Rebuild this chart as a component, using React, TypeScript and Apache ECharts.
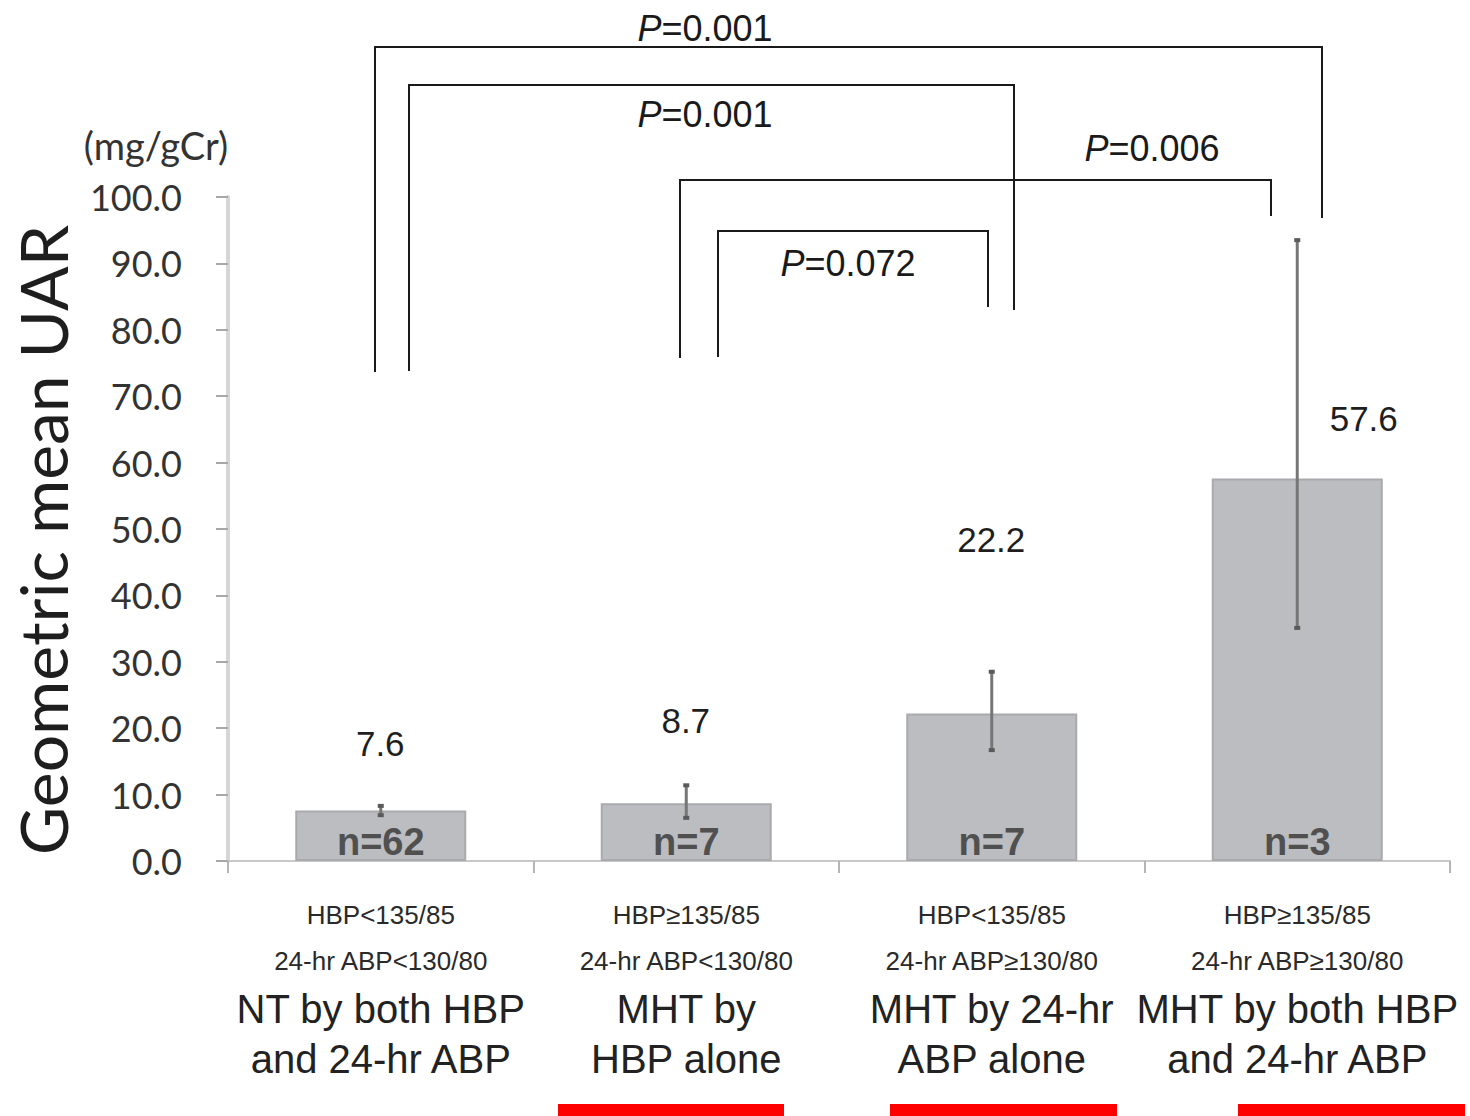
import React, { useEffect, useRef } from "react";
import * as echarts from "echarts";

// ---- data ----
const categories = [
  "NT by both HBP\nand 24-hr ABP",
  "MHT by\nHBP alone",
  "MHT by 24-hr\nABP alone",
  "MHT by both HBP\nand 24-hr ABP",
];
const hbpCondition = ["HBP<135/85", "HBP≥135/85", "HBP<135/85", "HBP≥135/85"];
const abpCondition = ["24-hr ABP<130/80", "24-hr ABP<130/80", "24-hr ABP≥130/80", "24-hr ABP≥130/80"];
const geoMeans = [7.6, 8.7, 22.2, 57.6];
const errLow = [6.9, 6.5, 16.7, 35.1];
const errHigh = [8.3, 11.4, 28.5, 93.5];
const sampleSizes = ["n=62", "n=7", "n=7", "n=3"];
const valueLabelLevels = [17.6, 21.1, 48.3, 66.6];
const pValues = ["0.001", "0.001", "0.006", "0.072"];
const yMin = 0;
const yMax = 100;
const yInterval = 10;

// ---- layout (annotations) ----
const GRID = { left: 228, right: 20, top: 197, bottom: 255 };
const brackets = [
  { x1: 375, x2: 1322, top: 47, end1: 372, end2: 218, lx: 705, ly: 28 },
  { x1: 409, x2: 1014, top: 85, end1: 371, end2: 310, lx: 705, ly: 114 },
  { x1: 680, x2: 1271, top: 180, end1: 358, end2: 216, lx: 1152, ly: 148 },
  { x1: 718, x2: 988, top: 231, end1: 357, end2: 307, lx: 848, ly: 263 },
];
const redMarks = [
  { x: 558, w: 226 },
  { x: 890, w: 227 },
  { x: 1238, w: 227 },
];

const ARIAL = "'Liberation Sans', Arial, Helvetica, sans-serif";
const NARROW = "'Liberation Sans Narrow', 'Arial Narrow', 'Liberation Sans', Arial, sans-serif";
const CALIBRI = "Lato, 'Open Sans', 'Noto Sans', sans-serif";

export default function App() {
  const ref = useRef<HTMLDivElement>(null);

  useEffect(() => {
    if (!ref.current) return;
    const chart = echarts.init(ref.current, undefined, { renderer: "svg" });

    const graphic: any[] = [];
    graphic.push({
      type: "text",
      x: 42,
      y: 540,
      rotation: Math.PI / 2,
      style: {
        text: "Geometric mean UAR",
        font: `66px ${CALIBRI}`,
        fill: "#1e1e1e",
        align: "center",
        verticalAlign: "middle",
      },
    });
    graphic.push({
      type: "text",
      x: 156,
      y: 145,
      style: {
        text: "(mg/gCr)",
        font: `38px ${CALIBRI}`,
        fill: "#333",
        align: "center",
        verticalAlign: "middle",
      },
    });
    brackets.forEach((b, i) => {
      graphic.push({
        type: "polyline",
        shape: {
          points: [
            [b.x1, b.end1],
            [b.x1, b.top],
            [b.x2, b.top],
            [b.x2, b.end2],
          ],
        },
        style: { stroke: "#1a1a1a", lineWidth: 2, fill: null },
      });
      graphic.push({
        type: "text",
        x: b.lx,
        y: b.ly,
        style: {
          text: `{i|P}{n|=${pValues[i]}}`,
          align: "center",
          verticalAlign: "middle",
          rich: {
            i: { font: `italic 36px ${ARIAL}`, fill: "#1a1a1a" },
            n: { font: `36px ${ARIAL}`, fill: "#1a1a1a" },
          },
        },
      });
    });
    redMarks.forEach((r) => {
      graphic.push({
        type: "rect",
        shape: { x: r.x, y: 1104, width: r.w, height: 12 },
        style: { fill: "#ff0000" },
      });
    });

    chart.setOption({
      animation: false,
      backgroundColor: "#ffffff",
      grid: GRID,
      xAxis: {
        type: "category",
        data: categories,
        boundaryGap: true,
        axisLine: { lineStyle: { color: "#c9c9c9", width: 2 } },
        axisTick: { show: true, length: 12, lineStyle: { color: "#b5b5b5", width: 2 } },
        axisLabel: {
          interval: 0,
          margin: 31,
          formatter: (v: string, idx: number) => {
            const parts = v.split("\n");
            return `{s|${hbpCondition[idx]}}\n{s|${abpCondition[idx]}}\n{b|${parts[0]}}\n{b|${parts[1]}}`;
          },
          rich: {
            s: { fontFamily: NARROW, fontSize: 26, lineHeight: 46, color: "#2a2a2a" },
            b: { fontFamily: ARIAL, fontSize: 40, lineHeight: 50, color: "#222" },
          },
        },
      },
      yAxis: {
        type: "value",
        min: yMin,
        max: yMax,
        interval: yInterval,
        axisLine: { show: true, lineStyle: { color: "#d6d6d6", width: 4 } },
        axisTick: { show: true, length: 12, lineStyle: { color: "#a8a8a8", width: 2 } },
        splitLine: { show: false },
        axisLabel: {
          margin: 46,
          formatter: (v: number) => v.toFixed(1),
          fontFamily: CALIBRI,
          fontSize: 36,
          color: "#333",
        },
      },
      series: [
        {
          type: "bar",
          data: geoMeans,
          barWidth: 171,
          itemStyle: { color: "#bcbdc0", borderColor: "#a9aaad", borderWidth: 2 },
          label: {
            show: true,
            position: "insideBottom",
            distance: 0,
            formatter: (p: any) => sampleSizes[p.dataIndex],
            fontFamily: NARROW,
            fontWeight: "bold",
            fontSize: 38,
            color: "#505050",
          },
          z: 2,
        },
        {
          type: "custom",
          data: geoMeans.map((_, i) => [i, errLow[i], errHigh[i]]),
          renderItem: (params: any, api: any) => {
            const x = api.value(0);
            const lo = api.coord([x, api.value(1)]);
            const hi = api.coord([x, api.value(2)]);
            const stroke = "#767676";
            return {
              type: "group",
              children: [
                { type: "line", shape: { x1: lo[0], y1: lo[1], x2: hi[0], y2: hi[1] }, style: { stroke, lineWidth: 3 } },
                { type: "line", shape: { x1: lo[0] - 3, y1: lo[1], x2: lo[0] + 3, y2: lo[1] }, style: { stroke: "#5a5a5a", lineWidth: 4 } },
                { type: "line", shape: { x1: hi[0] - 3, y1: hi[1], x2: hi[0] + 3, y2: hi[1] }, style: { stroke: "#5a5a5a", lineWidth: 4 } },
              ],
            };
          },
          z: 3,
        },
        {
          type: "scatter",
          data: geoMeans.map((v, i) => ({
            value: [i, valueLabelLevels[i]],
            label: i === 3 ? { offset: [67, 0] } : undefined,
          })),
          symbolSize: 1,
          itemStyle: { color: "transparent" },
          emphasis: { disabled: true },
          label: {
            show: true,
            position: [0, 0],
            align: "center",
            verticalAlign: "middle",
            formatter: (p: any) => geoMeans[p.dataIndex].toFixed(1),
            fontFamily: ARIAL,
            fontSize: 35,
            color: "#1e1e1e",
            opacity: 1,
          },
          z: 4,
        },
      ],
      graphic,
    });

    return () => chart.dispose();
  }, []);

  return (
    <div
      ref={ref}
      style={{ position: "absolute", left: 0, top: 0, width: 1470, height: 1116, background: "#fff" }}
    />
  );
}
